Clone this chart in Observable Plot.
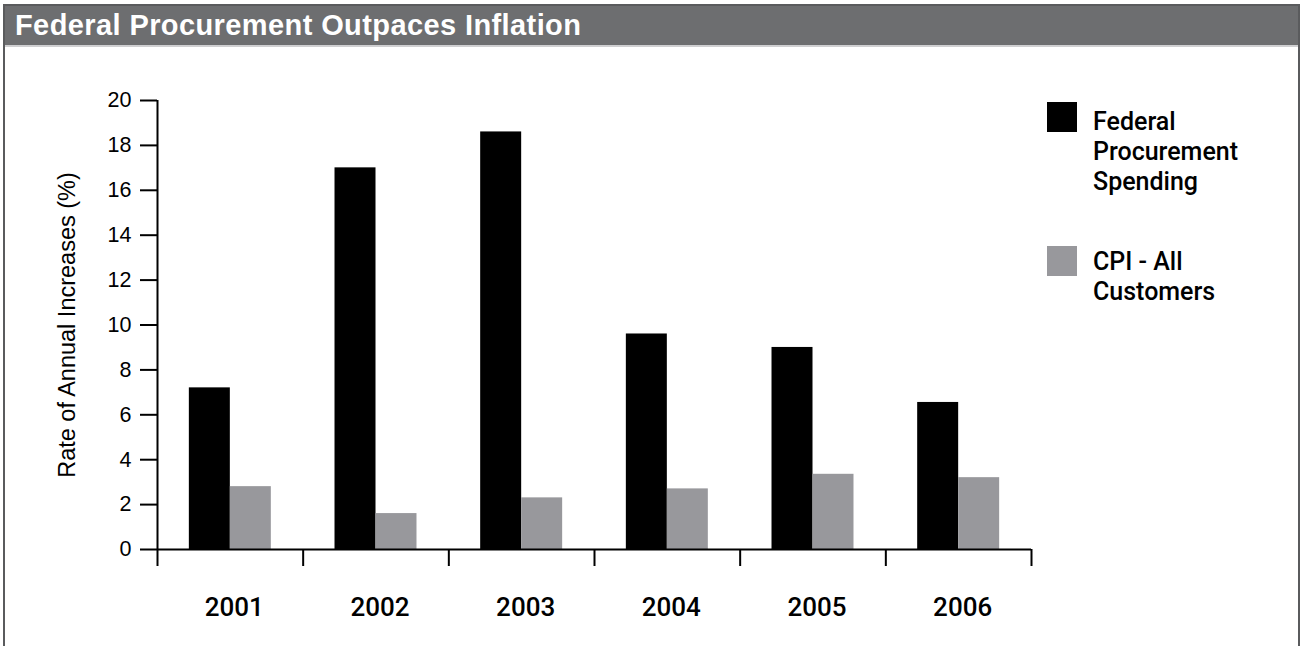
<!DOCTYPE html>
<html>
<head>
<meta charset="utf-8">
<script src="https://cdn.jsdelivr.net/npm/d3@7"></script>
<script src="https://cdn.jsdelivr.net/npm/@observablehq/plot@0.6"></script>
<style>
  html, body { margin: 0; padding: 0; background: #fff; }
  body { width: 1303px; height: 646px; position: relative; overflow: hidden; }
  #frame { position: absolute; left: 3px; top: 4px; width: 1297px; height: 700px; box-sizing: border-box;
           border: 2px solid #5a5b5d; border-bottom: none; }
  #title { position: absolute; left: 5px; top: 6px; width: 1283px; height: 39px; background: #6d6e70;
           border-bottom: 2px solid #cfcfd1; color: #fff; font-family: "Liberation Sans", Arial, sans-serif;
           font-weight: bold; font-size: 29px; line-height: 39px; padding-left: 10px; box-sizing: content-box;
           letter-spacing: 0.4px; }
  #chart { position: absolute; left: 6px; top: 47px; }
  .legend { position: absolute; left: 1047px; font-family: Roboto, "Liberation Sans", sans-serif;
            font-weight: 500; font-size: 25px; line-height: 30px; color: #000; }
  .legend .sw { position: absolute; left: 0; width: 30px; height: 30px; }
  .legend .tx { position: absolute; left: 46px; white-space: nowrap; }
</style>
</head>
<body>
<div id="frame"></div>
<div id="title">Federal Procurement Outpaces Inflation</div>
<div id="chart"></div>
<div id="legend"></div>
<script>
const years = [2001, 2002, 2003, 2004, 2005, 2006];
const seriesNames = ["Federal Procurement Spending", "CPI - All Customers"];
const federal = [7.2, 17.0, 18.6, 9.6, 9.0, 6.55];
const cpi = [2.8, 1.6, 2.3, 2.7, 3.35, 3.2];
const yTicks = [0, 2, 4, 6, 8, 10, 12, 14, 16, 18, 20];
const yLabel = "Rate of Annual Increases (%)";
const legendLines = [["Federal", "Procurement", "Spending"], ["CPI - All", "Customers"]];
const colors = ["#000000", "#98989c"];

const rows = [];
years.forEach((yr, i) => {
  rows.push({year: yr, series: seriesNames[0], value: federal[i], side: -1});
  rows.push({year: yr, series: seriesNames[1], value: cpi[i], side: 1});
});
const boundaries = [years[0] - 0.5, ...years.map(y => y + 0.5)];
const barW = 0.2814;

const chart = Plot.plot({
  width: 1292,
  height: 599,
  marginTop: 53,
  marginBottom: 97,
  marginLeft: 151,
  marginRight: 267,
  style: {fontFamily: "'Liberation Sans', Arial, sans-serif", fontSize: "21px", color: "#000", background: "transparent", overflow: "visible"},
  x: {type: "linear", domain: [boundaries[0], boundaries[boundaries.length - 1]], label: null},
  y: {domain: [0, 20], label: null},
  color: {domain: seriesNames, range: colors},
  marks: [
    Plot.rectY(rows, {
      x1: d => d.side < 0 ? d.year - barW : d.year,
      x2: d => d.side < 0 ? d.year : d.year + barW,
      y: "value",
      fill: "series"
    }),
    Plot.ruleY([0], {stroke: "#000", strokeWidth: 2}),
    Plot.ruleX([boundaries[0]], {y1: 0, y2: 20, stroke: "#000", strokeWidth: 2}),
    Plot.axisY({ticks: yTicks, tickSize: 17, tickPadding: 9, strokeWidth: 2, label: null, fontSize: 21.5}),
    Plot.axisX({ticks: boundaries, tickSize: 17, strokeWidth: 2, tickFormat: () => "", label: null}),
    Plot.axisX({ticks: years, tickSize: 0, tickPadding: 48, dx: 4, tickFormat: d => String(d), label: null,
                fontSize: 26, fontFamily: "Roboto, 'Liberation Sans', sans-serif", fontWeight: 500}),
    Plot.text([yLabel], {frameAnchor: "left", rotate: -90, dx: -90, textAnchor: "middle", fontSize: 23.5, text: d => d})
  ]
});
document.getElementById("chart").appendChild(chart);

// legend
const legendTops = [102, 246];
const textTops = [107, 247];
const lg = document.getElementById("legend");
seriesNames.forEach((name, i) => {
  const g = document.createElement("div");
  g.className = "legend";
  g.style.top = "0px";
  const sw = document.createElement("div");
  sw.className = "sw";
  sw.style.top = legendTops[i] + "px";
  sw.style.background = colors[i];
  g.appendChild(sw);
  const tx = document.createElement("div");
  tx.className = "tx";
  tx.style.top = textTops[i] + "px";
  tx.innerHTML = legendLines[i].join("<br>");
  g.appendChild(tx);
  lg.appendChild(g);
});
</script>
</body>
</html>
